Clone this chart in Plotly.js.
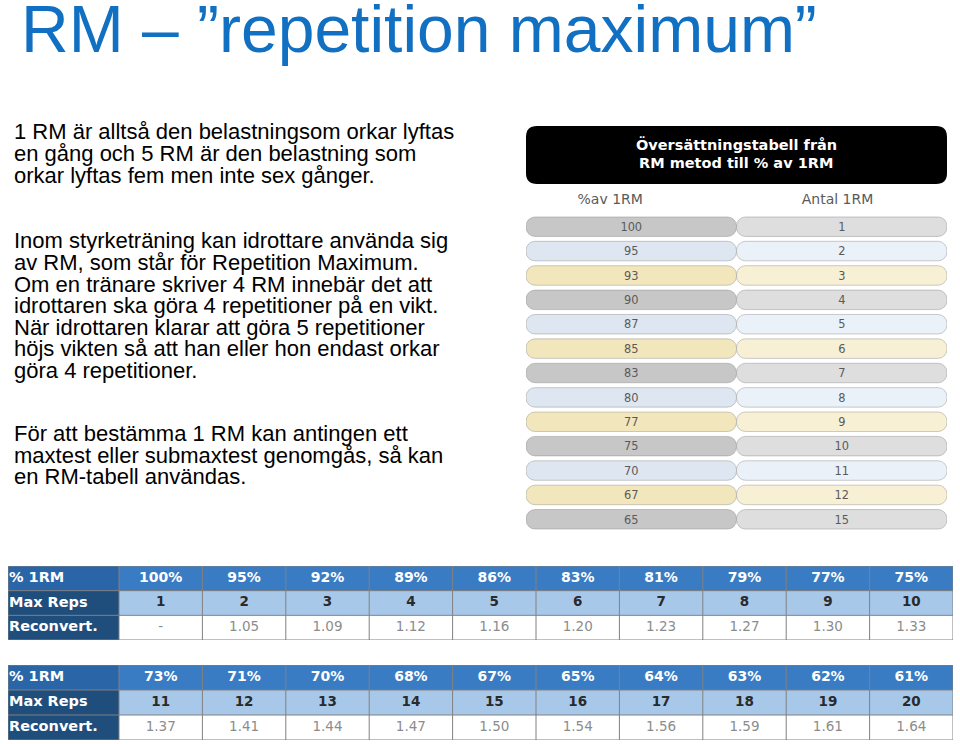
<!DOCTYPE html>
<html>
<head>
<meta charset="utf-8">
<script src="https://cdn.plot.ly/plotly-3.0.1.min.js"></script>
<style>html,body{margin:0;padding:0;background:#fff;}#chart{width:960px;height:744px;}</style>
</head>
<body>
<div id="chart"></div>
<script>
// ---------- DATA ----------
const slideTitle = "RM – ”repetition maximum”";
const paragraph1 = [
  "1 RM är alltså den belastningsom orkar lyftas",
  "en gång och 5 RM är den belastning som",
  "orkar lyftas fem men inte sex gånger."
];
const paragraph2 = [
  "Inom styrketräning kan idrottare använda sig",
  "av RM, som står för Repetition Maximum.",
  "Om en tränare skriver 4 RM innebär det att",
  "idrottaren ska göra 4 repetitioner på en vikt.",
  "När idrottaren klarar att göra 5 repetitioner",
  "höjs vikten så att han eller hon endast orkar",
  "göra 4 repetitioner."
];
const paragraph3 = [
  "För att bestämma 1 RM kan antingen ett",
  "maxtest eller submaxtest genomgås, så kan",
  "en RM-tabell användas."
];

const pillTitle = ["Översättningstabell från", "RM metod till % av 1RM"];
const pillHeaders = ["%av 1RM", "Antal 1RM"];
const pctAv1RM = [100, 95, 93, 90, 87, 85, 83, 80, 77, 75, 70, 67, 65];
const antal1RM = [1, 2, 3, 4, 5, 6, 7, 8, 9, 10, 11, 12, 15];

const rowLabels = ["% 1RM", "Max Reps", "Reconvert."];
const pct1 = [100, 95, 92, 89, 86, 83, 81, 79, 77, 75];
const reps1 = [1, 2, 3, 4, 5, 6, 7, 8, 9, 10];
const reconv1 = ["-", "1.05", "1.09", "1.12", "1.16", "1.20", "1.23", "1.27", "1.30", "1.33"];
const pct2 = [73, 71, 70, 68, 67, 65, 64, 63, 62, 61];
const reps2 = [11, 12, 13, 14, 15, 16, 17, 18, 19, 20];
const reconv2 = ["1.37", "1.41", "1.44", "1.47", "1.50", "1.54", "1.56", "1.59", "1.61", "1.64"];

// ---------- LAYOUT HELPERS ----------
const W = 960, H = 744;
const PX = x => x / W;
const PY = y => 1 - y / H;
const SANS = "Liberation Sans, Arial, sans-serif";
const DV = "DejaVu Sans, sans-serif";

const annotations = [];
annotations.push({
  text: slideTitle, xref: "paper", yref: "paper", x: PX(19), y: PY(29),
  xanchor: "left", yanchor: "middle", showarrow: false,
  font: {family: SANS, size: 66, color: "#1170c2"}
});
const lineStep = 21.6;
[[paragraph1, 139.3], [paragraph2, 248.3], [paragraph3, 441]].forEach(([lines, base]) => {
  lines.forEach((t, i) => {
    annotations.push({
      text: t, xref: "paper", yref: "paper", x: PX(12), y: PY(base + i * lineStep - 7.5),
      xanchor: "left", yanchor: "middle", showarrow: false,
      font: {family: SANS, size: 22, color: "#000"}
    });
  });
});
pillTitle.forEach((t, i) => {
  annotations.push({
    text: t, xref: "paper", yref: "paper", x: PX(736), y: PY(145 + i * 18.5),
    xanchor: "center", yanchor: "middle", showarrow: false,
    font: {family: DV, size: 14.5, color: "#fff", weight: "bold"}
  });
});

function roundRectPath(x0, y0, x1, y1, r) {
  const rx = r / W, ry = r / H;
  const a = PX(x0), b = PX(x1), t = PY(y0), u = PY(y1);
  return `M ${a + rx},${t} L ${b - rx},${t} Q ${b},${t} ${b},${t - ry} L ${b},${u + ry} Q ${b},${u} ${b - rx},${u} ` +
         `L ${a + rx},${u} Q ${a},${u} ${a},${u + ry} L ${a},${t - ry} Q ${a},${t} ${a + rx},${t} Z`;
}
const shapes = [{
  type: "path", xref: "paper", yref: "paper", path: roundRectPath(526, 126, 947, 184, 11),
  fillcolor: "#000", line: {width: 0}
}];

// ---------- PILL BARS ----------
const leftPalette = ["#c7c7c7", "#dde6f1", "#f2e6bd"];
const rightPalette = ["#dedede", "#ebf1f8", "#f8f0d4"];
const rowIdx = pctAv1RM.map((_, i) => i);
const leftColors = rowIdx.map(i => leftPalette[i % 3]);
const rightColors = rowIdx.map(i => rightPalette[i % 3]);

const barCommon = {
  type: "bar", orientation: "h", y: rowIdx, base: rowIdx.map(() => 0.5),
  textposition: "inside", insidetextanchor: "middle", textangle: 0,
  textfont: {family: DV, size: 13.5, color: "#5a5a5a"},
  hoverinfo: "skip", xaxis: "x", yaxis: "y"
};
const pillLine = {color: "rgba(130,130,130,0.5)", width: 0.8};
const pillLeft = Object.assign({}, barCommon, {
  x: rowIdx.map(() => -0.5), text: pctAv1RM.map(String),
  marker: {color: leftColors, cornerradius: 9, line: pillLine}
});
const pillRight = Object.assign({}, barCommon, {
  x: rowIdx.map(() => 0.5), text: antal1RM.map(String),
  marker: {color: rightColors, cornerradius: 9, line: pillLine}
});

// ---------- TABLES (heatmap cells + text) ----------
const colWidths = [111].concat(Array(10).fill(83.4));
const colEdges = colWidths.reduce((acc, w) => acc.concat(acc[acc.length - 1] + w), [0]);
const colCenters = colWidths.map((w, i) => colEdges[i] + w / 2);
const rowEdges = [-0.5, 0.5, 1.5, 2.5];
const cellColors = ["#1f4e7d", "#2a65a7", "#3a7cc3", "#a8c8ea", "#ffffff"];

function makeTable(pct, reps, reconv, ax) {
  const xa = "x" + ax, ya = "y" + ax;
  const n = pct.length;
  const z = [
    [1].concat(Array(n).fill(2)),
    [0].concat(Array(n).fill(3)),
    [0].concat(Array(n).fill(4))
  ];
  const heat = {
    type: "heatmap", x: colEdges, y: rowEdges, z: z, zmin: 0, zmax: 4,
    colorscale: cellColors.map((c, i) => [i / 4, c]), showscale: false,
    hoverinfo: "skip", xaxis: xa, yaxis: ya
  };
  const tx = [], ty = [], tt = [], tc = [], ts = [], tp = [];
  rowLabels.forEach((lab, r) => {
    tx.push(colEdges[0] + 1); ty.push(r); tt.push(`<b>${lab}</b>`);
    tc.push("#ffffff"); ts.push(14.5); tp.push("middle right");
  });
  for (let i = 0; i < n; i++) {
    const cx = colCenters[i + 1];
    tx.push(cx, cx, cx); ty.push(0, 1, 2);
    tt.push(`<b>${pct[i]}%</b>`, `<b>${reps[i]}</b>`, reconv[i]);
    tc.push("#ffffff", "#2a2a2a", "#8c8c8c");
    ts.push(14, 13.5, 13.5);
    tp.push("middle center", "middle center", "middle center");
  }
  const txt = {
    type: "scatter", mode: "text", x: tx, y: ty, text: tt, textposition: tp,
    textfont: {family: DV, size: ts, color: tc}, hoverinfo: "skip", xaxis: xa, yaxis: ya
  };
  colEdges.forEach(e => shapes.push({type: "line", xref: xa, yref: ya, x0: e, x1: e, y0: -0.5, y1: 2.5,
    line: {color: "#808080", width: 1}}));
  rowEdges.forEach(e => shapes.push({type: "line", xref: xa, yref: ya, x0: 0, x1: colEdges[colEdges.length - 1],
    y0: e, y1: e, line: {color: "#808080", width: 1}}));
  return [heat, txt];
}
const t1 = makeTable(pct1, reps1, reconv1, 2);
const t2 = makeTable(pct2, reps2, reconv2, 3);

const tableAxisX = d => ({domain: d, range: [0, colEdges[colEdges.length - 1]], visible: false, fixedrange: true,
  showgrid: false, zeroline: false});
const tableAxisY = (d, xa) => ({domain: d, range: [2.5, -0.5], visible: false, fixedrange: true,
  showgrid: false, zeroline: false, anchor: xa});

// ---------- FIGURE ----------
const layout = {
  width: W, height: H, margin: {l: 0, r: 0, t: 0, b: 0},
  paper_bgcolor: "#fff", plot_bgcolor: "rgba(0,0,0,0)",
  showlegend: false, barmode: "overlay", bargap: 0.2,
  xaxis: {
    domain: [PX(526), PX(947)], range: [0, 1], side: "top",
    tickmode: "array", tickvals: [0.2, 0.74], ticktext: pillHeaders,
    ticks: "", ticklabelstandoff: 7,
    tickfont: {family: DV, size: 14, color: "#5a5a5a"},
    showgrid: false, zeroline: false, showline: false, fixedrange: true
  },
  yaxis: {
    domain: [PY(531.5), PY(214.5)], range: [12.5, -0.5],
    visible: false, showgrid: false, zeroline: false, fixedrange: true
  },
  xaxis2: Object.assign(tableAxisX([PX(8), PX(953)]), {anchor: "y2"}),
  yaxis2: tableAxisY([PY(640), PY(566)], "x2"),
  xaxis3: Object.assign(tableAxisX([PX(8), PX(953)]), {anchor: "y3"}),
  yaxis3: tableAxisY([PY(740), PY(665)], "x3"),
  annotations: annotations, shapes: shapes
};

Plotly.newPlot("chart", [pillLeft, pillRight].concat(t1, t2), layout, {displayModeBar: false, staticPlot: true});
</script>
</body>
</html>
